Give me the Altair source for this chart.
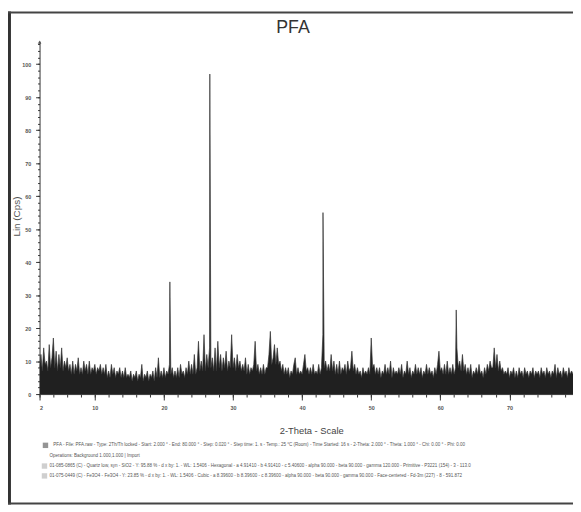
import altair as alt
import pandas as pd

# ---------------- data ----------------
chart_title = "PFA"
x_title = "2-Theta - Scale"
y_title = "Lin (Cps)"

x_start, x_step = 2.0, 0.2
# top of the dark noise band, every 0.2 deg from 2.0 to 79.2
intensity = [
    8, 12, 7, 14, 9,    10, 7, 15, 8, 11,   17, 8, 13, 7, 12,   8, 14, 7, 10, 8,
    11, 7, 9, 6, 10,    6, 9, 7, 11, 6,     8, 6, 10, 7, 9,     6, 10, 6, 8, 7,
    9, 6, 8, 7, 9,      6, 8, 6, 9, 5,      7, 5, 9, 6, 8,      5, 7, 6, 8, 5,
    7, 5, 8, 5, 6,      5, 7, 4, 6, 5,      7, 4, 6, 5, 9,      4, 6, 5, 7, 4,
    6, 5, 7, 4, 8,      5, 11, 5, 7, 5,     8, 5, 7, 6, 9,      6, 8, 5, 7, 5,
    8, 5, 9, 6, 7,      5, 8, 6, 10, 6,     9, 6, 12, 6, 8,     16, 7, 10, 7, 18,
    7, 12, 8, 14, 8,    11, 7, 14, 7, 16,   8, 12, 7, 11, 8,    13, 7, 10, 8, 18,
    8, 11, 7, 12, 8,    10, 7, 9, 7, 11,    6, 9, 6, 8, 7,      9, 16, 7, 9, 6,
    8, 6, 9, 6, 8,      8, 12, 19, 9, 11,   15, 9, 14, 9, 10,   7, 9, 6, 8, 6,
    8, 5, 7, 6, 9,      11, 6, 8, 6, 7,     6, 9, 12, 7, 8,     6, 8, 6, 9, 6,
    7, 6, 9, 6, 8,      18, 8, 10, 7, 9,    7, 12, 7, 10, 6,    9, 6, 10, 6, 8,
    7, 9, 6, 10, 7,     8, 13, 7, 9, 6,     8, 6, 7, 5, 8,      6, 7, 6, 8, 6,
    17, 8, 9, 6, 8,     6, 8, 5, 7, 6,      9, 6, 8, 6, 10,     5, 8, 6, 7, 6,
    8, 6, 9, 5, 7,      6, 10, 6, 8, 5,     7, 6, 9, 6, 8,      6, 8, 5, 7, 6,
    9, 6, 8, 6, 7,      5, 8, 6, 9, 13,     7, 8, 6, 9, 6,      10, 6, 8, 6, 9,
    6, 8, 14, 8, 10,    7, 12, 7, 9, 6,     8, 6, 9, 5, 7,      6, 8, 6, 9, 6,
    7, 5, 8, 6, 9,      7, 10, 8, 8, 14,    8, 12, 7, 10, 7,    8, 6, 7, 6, 8,
    5, 7, 6, 8, 5,      7, 5, 8, 6, 7,      5, 8, 6, 7, 5,      7, 6, 8, 5, 7,
    6, 7, 5, 8, 6,      7, 5, 8, 6, 7,      5, 7, 6, 9, 5,      8, 6, 7, 5, 8,
    6, 7, 5, 8, 6,      7, 6,
]
peak_pos = [20.86, 26.64, 43.02, 62.30]
peak_cps = [34, 97, 55, 25.5]

x_major = [2, 10, 20, 30, 40, 50, 60, 70]
x_minor = list(range(2, 80, 2))
y_major = list(range(0, 101, 10))
y_minor = list(range(0, 107, 2))

legend_lines = [
    "PFA - File: PFA.raw - Type: 2Th/Th locked - Start: 2.000 ° - End: 80.000 ° - Step: 0.020 ° - Step time: 1. s - Temp.: 25 °C (Room) - Time Started: 16 s - 2-Theta: 2.000 ° - Theta: 1.000 ° - Chi: 0.00 ° - Phi: 0.00",
    "Operations: Background 1.000,1.000 | Import",
    "01-085-0865 (C) - Quartz low, syn - SiO2 - Y: 95.88 % - d x by: 1. - WL: 1.5406 - Hexagonal - a 4.91410 - b 4.91410 - c 5.40600 - alpha 90.000 - beta 90.000 - gamma 120.000 - Primitive - P3221 (154) - 3 - 113.0",
    "01-075-0449 (C) - Fe3O4 - Fe3O4 - Y: 23.85 % - d x by: 1. - WL: 1.5406 - Cubic - a 8.39600 - b 8.39600 - c 8.39600 - alpha 90.000 - beta 90.000 - gamma 90.000 - Face-centered - Fd-3m (227) - 8 - 591.872",
]

# ---------------- build ----------------
W, H = 541, 358
rows = [{"theta": round(x_start + i * x_step, 2), "cps": v} for i, v in enumerate(intensity)]
rows += [{"theta": p, "cps": c} for p, c in zip(peak_pos, peak_cps)]
df = pd.DataFrame(rows).sort_values("theta").reset_index(drop=True)

xs = alt.Scale(domain=[2, 79.2], nice=False, zero=False)
ys = alt.Scale(domain=[0, 107], nice=False)
FONT = "Liberation Sans"
AX = "#333333"
LAB = "#555555"

band = alt.Chart(df).mark_area(color="#202020", interpolate="linear", clip=True).encode(
    x=alt.X("theta:Q", scale=xs, axis=alt.Axis(
        values=x_major, title=None, orient="bottom", labelFontSize=5.5, labelFontWeight="bold",
        labelColor=LAB, tickSize=6, tickColor=AX, domainColor=AX, labelPadding=6, grid=False, format="d")),
    y=alt.Y("cps:Q", scale=ys, axis=alt.Axis(
        values=y_major, title=None, orient="left", labelFontSize=5.5, labelFontWeight="bold",
        labelColor=LAB, tickSize=4, tickColor=AX, domainColor=AX, labelPadding=5, grid=False, format="d")),
)
edge = alt.Chart(df).mark_line(color="#333333", strokeWidth=0.7, clip=True).encode(
    x=alt.X("theta:Q", scale=xs, axis=None), y=alt.Y("cps:Q", scale=ys, axis=None))

minor = alt.Chart(pd.DataFrame({"theta": [2.0], "cps": [0.0]})).mark_point(opacity=0).encode(
    x=alt.X("theta:Q", scale=xs, axis=alt.Axis(
        values=x_minor, labels=False, title=None, orient="bottom", tickSize=3,
        tickColor=AX, domain=False, grid=False)),
    y=alt.Y("cps:Q", scale=ys, axis=alt.Axis(
        values=y_minor, labels=False, title=None, orient="left", tickSize=2,
        tickColor=AX, domain=False, grid=False)),
)

one = pd.DataFrame({"k": [0]})
arrow = alt.Chart(one).mark_point(shape="triangle-up", filled=True, size=14, color=AX).encode(
    x=alt.value(0), y=alt.value(1))

title_mark = alt.Chart(one).mark_text(
    text=chart_title, fontSize=18, font=FONT, color="#333333", align="center", baseline="middle"
).encode(x=alt.value(257), y=alt.value(-13))

xtitle_mark = alt.Chart(one).mark_text(
    text=x_title, fontSize=9.5, font=FONT, color="#444444", align="center", baseline="middle"
).encode(x=alt.value(276), y=alt.value(395))

ytitle_mark = alt.Chart(one).mark_text(
    text=y_title, fontSize=10, font=FONT, color="#555555", align="center", baseline="middle", angle=270
).encode(x=alt.value(-23), y=alt.value(178))

leg_df = pd.DataFrame({
    "txt": legend_lines,
    "px": [14, 10, 10, 10],
    "py": [410, 420.5, 431, 441],
})
legend_text = alt.Chart(leg_df).mark_text(
    fontSize=4.6, font=FONT, color="#555555", align="left", baseline="middle"
).encode(x=alt.X("px:Q", scale=None, axis=None), y=alt.Y("py:Q", scale=None, axis=None), text="txt:N")

icon_df = pd.DataFrame({"px": [6, 5, 5], "py": [410, 431, 441], "c": ["#666666", "#bbbbbb", "#bbbbbb"]})
icons = alt.Chart(icon_df).mark_square(size=30, filled=True).encode(
    x=alt.X("px:Q", scale=None, axis=None), y=alt.Y("py:Q", scale=None, axis=None),
    color=alt.Color("c:N", scale=None, legend=None))

frame_left = alt.Chart(one).mark_rule(color="#333333", strokeWidth=3).encode(
    x=alt.value(-30.5), y=alt.value(-30), y2=alt.value(470))
frame_top = alt.Chart(one).mark_rule(color="#444444", strokeWidth=2).encode(
    x=alt.value(-32), x2=alt.value(W), y=alt.value(-29))
frame_bottom = alt.Chart(one).mark_rule(color="#444444", strokeWidth=2).encode(
    x=alt.value(-32), x2=alt.value(W), y=alt.value(469))

chart = alt.layer(
    band, edge, minor, arrow, title_mark, xtitle_mark, ytitle_mark, legend_text, icons,
    frame_left, frame_top, frame_bottom,
).resolve_axis(x="independent", y="independent").properties(
    width=W, height=H,
    autosize=alt.AutoSizeParams(type="none"),
    padding={"left": 32, "top": 30, "right": 0, "bottom": 112},
    background="white",
).configure_view(strokeWidth=0).configure_axis(labelFont=FONT)

chart.save("out.html", embed_options={"renderer": "svg", "actions": False})
